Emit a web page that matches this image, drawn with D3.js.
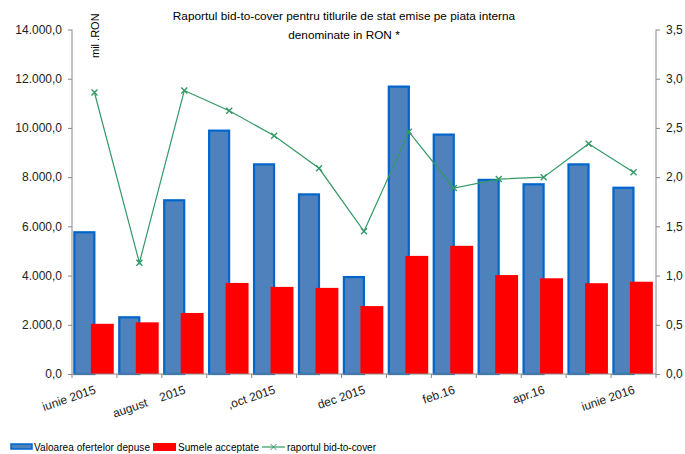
<!DOCTYPE html>
<html>
<head>
<meta charset="utf-8">
<script src="https://cdn.jsdelivr.net/npm/d3@7"></script>
<style>
  body { margin: 0; background: #fff; }
  svg { font-family: "Liberation Sans", Arial, sans-serif; }
  .axis path, .axis line { stroke: #888; }
  .axis text { font-size: 12px; fill: #222; }
</style>
</head>
<body>
<div id="chart"></div>
<script>
// months (13), labels shown on every second one
const months = ['iunie 2015', 'iulie 2015', 'august    2015', 'sept 2015', ',oct 2015', 'nov 2015',
  'dec 2015', 'ian.16', 'feb.16', 'mar.16', 'apr.16', 'mai.16', 'iunie 2016'];
const shownLabels = ['iunie 2015', 'august    2015', ',oct 2015', 'dec 2015', 'feb.16', 'apr.16', 'iunie 2016'];

// mil. RON
const oferte = [5800, 2345, 7100, 9930, 8560, 7340, 3980, 11720, 9770, 7930, 7750, 8560, 7610];
const acceptate = [2040, 2100, 2480, 3700, 3540, 3500, 2760, 4800, 5210, 4020, 3890, 3690, 3750];
const bidToCover = [2.86, 1.13, 2.88, 2.675, 2.42, 2.09, 1.45, 2.46, 1.89, 1.98, 2.00, 2.34, 2.05];

const leftTicks = [0, 2000, 4000, 6000, 8000, 10000, 12000, 14000];
const rightTicks = [0, 0.5, 1, 1.5, 2, 2.5, 3, 3.5];

const width = 685;
const height = 454;
const margin = { top: 29.5, right: 29, bottom: 80, left: 72 };

const fmtLeft = v => d3.format(',.1f')(v).replace(/,/g, '#').replace('.', ',').replace(/#/g, '.');
const fmtRight = v => d3.format('.1f')(v).replace('.', ',');

const svg = d3.select('#chart')
  .append('svg')
  .attr('width', width)
  .attr('height', height);

const x = d3.scaleBand()
  .domain(months)
  .range([margin.left, width - margin.right]);

const yLeft = d3.scaleLinear()
  .domain([0, 14000])
  .range([height - margin.bottom, margin.top]);

const yRight = d3.scaleLinear()
  .domain([0, 3.5])
  .range([height - margin.bottom, margin.top]);

const bw = x.bandwidth();

// blue bars (offers)
svg.append('g')
  .selectAll('rect')
  .data(oferte)
  .enter()
  .append('rect')
  .attr('x', (d, i) => x(months[i]) + bw * 0.03 + 1)
  .attr('y', d => yLeft(d) + 1)
  .attr('width', bw * 0.49 - 2)
  .attr('height', d => yLeft(0) - yLeft(d) - 1)
  .attr('fill', '#4f81bd')
  .attr('stroke', '#0066cc')
  .attr('stroke-width', 2.2);

// red bars (accepted)
svg.append('g')
  .selectAll('rect')
  .data(acceptate)
  .enter()
  .append('rect')
  .attr('x', (d, i) => x(months[i]) + bw * 0.42)
  .attr('y', d => yLeft(d))
  .attr('width', bw * 0.51)
  .attr('height', d => yLeft(0) - yLeft(d))
  .attr('fill', '#ff0000');

// axes
const xAxis = svg.append('g')
  .attr('class', 'axis')
  .attr('transform', `translate(0, ${height - margin.bottom})`);
xAxis.append('line')
  .attr('x1', margin.left).attr('x2', width - margin.right)
  .attr('y1', 0).attr('y2', 0);
xAxis.selectAll('.tick')
  .data(months.concat(['end']))
  .enter()
  .append('line')
  .attr('x1', (d, i) => margin.left + i * bw)
  .attr('x2', (d, i) => margin.left + i * bw)
  .attr('y1', 0).attr('y2', 4);

xAxis.selectAll('text')
  .data(shownLabels)
  .enter()
  .append('text')
  .attr('transform', d => `translate(${x(d) + bw / 2 + 2}, 19) rotate(-19)`)
  .attr('text-anchor', 'end')
  .style('white-space', 'pre')
  .attr('xml:space', 'preserve')
  .text(d => d);

svg.append('g')
  .attr('class', 'axis')
  .attr('transform', `translate(${margin.left}, 0)`)
  .call(d3.axisLeft(yLeft).tickValues(leftTicks).tickFormat(fmtLeft).tickSize(4).tickPadding(6))
  .call(g => g.select('.domain').attr('d', `M0,${yLeft(0)}V${yLeft(14000)}`));

svg.append('g')
  .attr('class', 'axis')
  .attr('transform', `translate(${width - margin.right}, 0)`)
  .call(d3.axisRight(yRight).tickValues(rightTicks).tickFormat(fmtRight).tickSize(4).tickPadding(6))
  .call(g => g.select('.domain').attr('d', `M0,${yRight(0)}V${yRight(3.5)}`));

// bid-to-cover line
const cx = (d, i) => x(months[i]) + bw / 2;
svg.append('path')
  .datum(bidToCover)
  .attr('fill', 'none')
  .attr('stroke', '#339966')
  .attr('stroke-width', 1.2)
  .attr('d', d3.line().x(cx).y(d => yRight(d)));

svg.append('g')
  .selectAll('path')
  .data(bidToCover)
  .enter()
  .append('path')
  .attr('transform', (d, i) => `translate(${cx(d, i)}, ${yRight(d)})`)
  .attr('d', 'M-3,-3L3,3M-3,3L3,-3')
  .attr('stroke', '#339966')
  .attr('stroke-width', 1.4);

// title
const title = svg.append('text')
  .attr('x', 344)
  .attr('text-anchor', 'middle')
  .style('font-size', '11.8px')
  .attr('fill', '#000');
title.append('tspan').attr('x', 344).attr('y', 20)
  .text('Raportul bid-to-cover pentru titlurile de stat emise pe piata interna');
title.append('tspan').attr('x', 344).attr('y', 39)
  .text('denominate in RON *');

// unit label
svg.append('text')
  .attr('transform', 'translate(99, 58) rotate(-90)')
  .style('font-size', '11px')
  .attr('fill', '#000')
  .text('mil .RON');

// legend
const legend = svg.append('g').attr('transform', 'translate(0, 447)');
legend.append('rect').attr('x', 11).attr('y', -3).attr('width', 21).attr('height', 5)
  .attr('fill', '#4f81bd').attr('stroke', '#0066cc').attr('stroke-width', 1.5);
legend.append('text').attr('x', 34).attr('y', 4).style('font-size', '10px')
  .attr('textLength', 116).text('Valoarea ofertelor depuse');
legend.append('rect').attr('x', 153).attr('y', -4).attr('width', 23).attr('height', 8).attr('fill', '#ff0000');
legend.append('text').attr('x', 178).attr('y', 4).style('font-size', '10px')
  .attr('textLength', 81).text('Sumele acceptate');
legend.append('line').attr('x1', 262).attr('x2', 285).attr('y1', 0).attr('y2', 0)
  .attr('stroke', '#339966').attr('stroke-width', 1.2);
legend.append('path').attr('transform', 'translate(273.5, 0)').attr('d', 'M-3,-3L3,3M-3,3L3,-3')
  .attr('stroke', '#339966').attr('stroke-width', 1);
legend.append('text').attr('x', 287).attr('y', 4).style('font-size', '10px')
  .attr('textLength', 89).text('raportul bid-to-cover');
</script>
</body>
</html>
